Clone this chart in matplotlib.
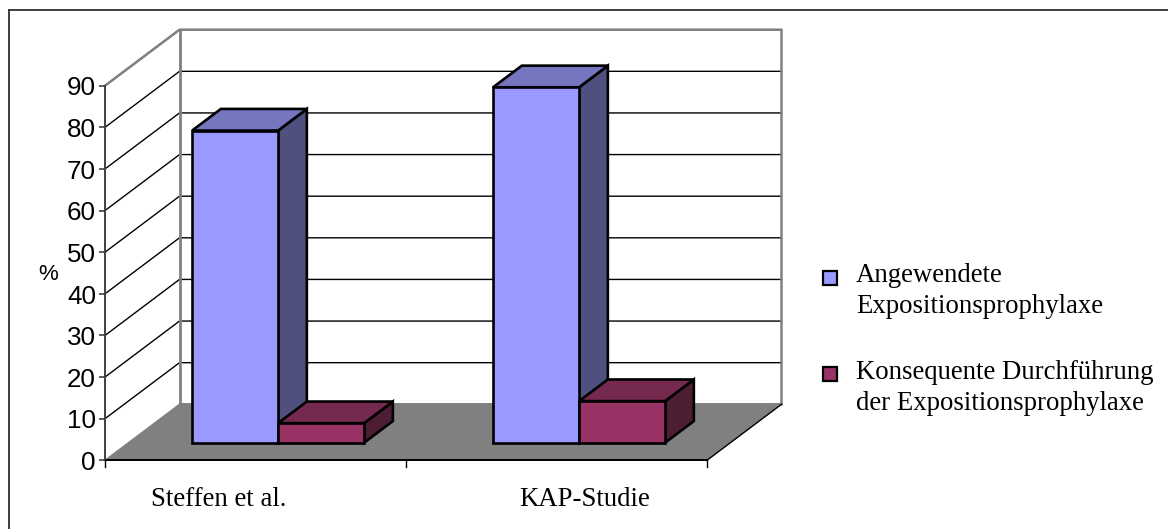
import matplotlib
matplotlib.use('Agg')
from matplotlib import pyplot as plt
from matplotlib.patches import Polygon, Rectangle

categories = ['Steffen et al.', 'KAP-Studie']
angewendet = [75, 85.4]
konsequent = [4.7, 10]
series_labels = ['Angewendete\nExpositionsprophylaxe',
                 'Konsequente Durchführung\nder Expositionsprophylaxe']
y_ticks = [0, 10, 20, 30, 40, 50, 60, 70, 80, 90]

W, H = 1168, 529
fig = plt.figure(figsize=(W / 100, H / 100), dpi=100)

# front plane of the chart box: one x unit per category, y in percent
ax = fig.add_axes([105 / W, 1 - 460.3 / H, 602 / W, 374.6 / H])
ax.set_xlim(0, 2)
ax.set_ylim(0, 90)
ax.axis('off')

# how far the back wall sits from the front plane, in data units
depth_x = 74.5 / 301
depth_y = 56 / 4.162


def pt(x, y, d=0.0):
    return (x + d * depth_x, y + d * depth_y)


def face(points, color, edge='black', lw=1.9, z=2):
    ax.add_patch(Polygon(points, closed=True, facecolor=color, edgecolor=edge,
                         linewidth=lw, joinstyle='miter', clip_on=False, zorder=z))


def bar3d(x0, x1, d0, d1, value, front, top, side, z):
    face([pt(x1, 0, d0), pt(x1, 0, d1), pt(x1, value, d1), pt(x1, value, d0)], side, z=z)
    face([pt(x0, value, d0), pt(x1, value, d0), pt(x1, value, d1), pt(x0, value, d1)], top, z=z)
    face([pt(x0, 0, d0), pt(x1, 0, d0), pt(x1, value, d0), pt(x0, value, d0)], front, z=z)


# outer frame, only its top and left edges fall inside the canvas
fig.add_artist(plt.Line2D([8.5 / W, 8.5 / W], [0, 1 - 10 / H], color='#303030', lw=1.3))
fig.add_artist(plt.Line2D([8.5 / W, 1], [1 - 10 / H, 1 - 10 / H], color='#303030', lw=1.3))

# floor
face([pt(0, 0), pt(2, 0), pt(2, 0, 1), pt(0, 0, 1)], '#808080', edge='none', z=1)
ax.plot(*zip(pt(0, 0), pt(2, 0)), color='black', lw=1.4, clip_on=False, zorder=3)
ax.plot(*zip(pt(2, 0), pt(2, 0, 1)), color='black', lw=1.0, clip_on=False, zorder=1.5)
ax.plot(*zip(pt(0, 0), pt(0, 0, 1)), color='#808080', lw=1.0, clip_on=False, zorder=1.5)

# gridlines on the side and back walls
for t in y_ticks[1:]:
    ax.plot(*zip(pt(0, t), pt(0, t, 1), pt(2, t, 1)), color='black', lw=1.0,
            clip_on=False, zorder=1)

# wall outline
ax.plot(*zip(pt(0, 90), pt(0, 90, 1), pt(2, 90, 1), pt(2, 0, 1)), color='#808080', lw=1.8,
        clip_on=False, zorder=1.2)
ax.plot(*zip(pt(0, 0, 1), pt(0, 90, 1)), color='#808080', lw=2.0, clip_on=False, zorder=1.2)
ax.plot(*zip(pt(0, 0, 1), pt(2, 0, 1)), color='#808080', lw=1.4, clip_on=False, zorder=1.2)

# value axis
ax.plot([0, 0], [0, 90], color='#404040', lw=1.4, clip_on=False, zorder=3)
for t in y_ticks:
    ax.plot([0], [t], marker=0, ms=4.5, mew=1.2, color='#404040', clip_on=False, zorder=3)
    ax.annotate(str(t), xy=(0, t), xytext=(-6.5, -2), textcoords='offset points', ha='right',
                va='center', fontsize=18.7, family='Liberation Sans', color='black')

ax.annotate('%', xy=(0, 45), xytext=(-34, -1), textcoords='offset points', ha='right',
            va='center', fontsize=16, family='Liberation Sans', color='black')

# category axis
for i in range(3):
    ax.plot([i, i], [0, -1.6], color='black', lw=1.0, clip_on=False, zorder=3)
label_x = [0.379, 1.595]
for c, lx in zip(categories, label_x):
    ax.annotate(c, xy=(lx, 0), xytext=(0, -28), textcoords='offset points',
                ha='center', va='center', fontsize=19.3, family='Liberation Serif', color='black')

# bars, the short one goes over the side of the tall one
bar_w = 86 / 301
gap = (191.7 - 105 - 23) / 301
d0, d1 = 0.314, 0.70
for i in range(2):
    x0 = i + gap
    bar3d(x0, x0 + bar_w, d0, d1, angewendet[i], '#9999FF', '#7575C0', '#4F4F80', 4)
    bar3d(x0 + bar_w, x0 + 2 * bar_w, d0, d1, konsequent[i], '#993366', '#75294F', '#4D1D33', 5)

# legend
legend_colors = ['#9999FF', '#993366']
legend_y = [278, 374]
legend_text_y = [291, 388]
for c, ly, ty, s in zip(legend_colors, legend_y, legend_text_y, series_labels):
    fig.add_artist(Rectangle((823 / W, 1 - (ly + 7) / H), 14 / W, 14 / H,
                             transform=fig.transFigure, facecolor=c, edgecolor='black',
                             linewidth=1.6))
    fig.text(856 / W, 1 - ty / H, s, ha='left', va='center', fontsize=19.3,
             family='Liberation Serif', color='black', linespacing=1.27)

fig.savefig('out.png', dpi=100, facecolor='white')
